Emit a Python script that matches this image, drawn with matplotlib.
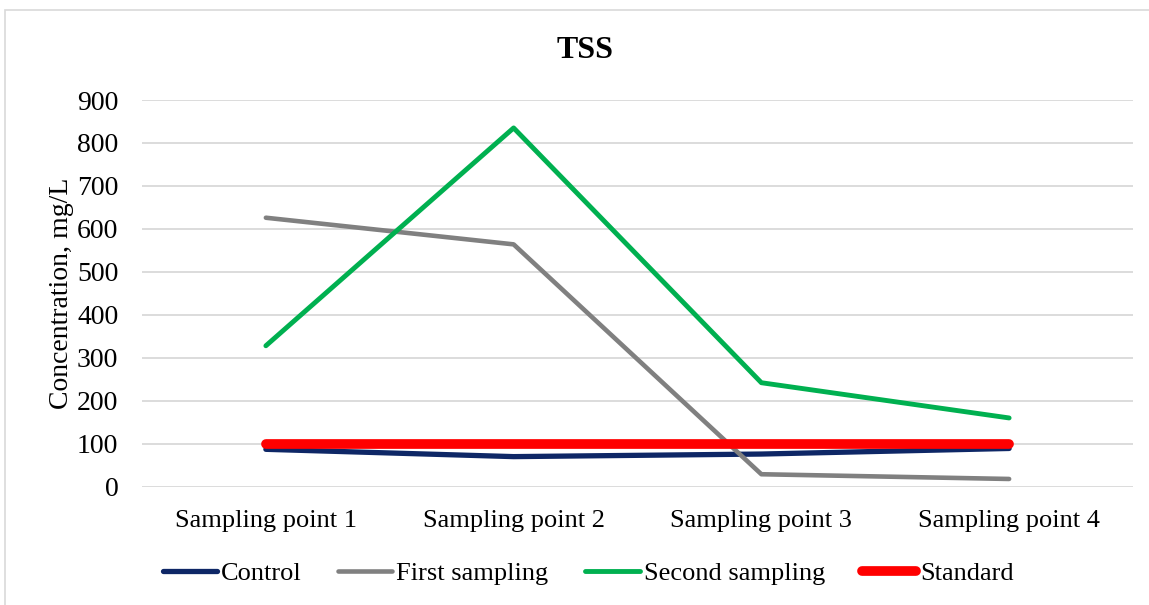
import matplotlib
matplotlib.use("Agg")
import matplotlib.pyplot as plt
from matplotlib.patches import Rectangle

categories = ["Sampling point 1", "Sampling point 2", "Sampling point 3", "Sampling point 4"]
control = [87, 70, 76, 89]
first_sampling = [626, 564, 29, 18]
second_sampling = [328, 835, 242, 160]
standard = [100, 100, 100, 100]
yticks = [0, 100, 200, 300, 400, 500, 600, 700, 800, 900]

plt.rcParams['font.family'] = ['Liberation Serif', 'DejaVu Serif']

W, H = 1149, 605
fig = plt.figure(figsize=(W / 100, H / 100), dpi=100)
ax = fig.add_axes([142 / W, 1 - 486.7 / H, (1133 - 142) / W, (486.7 - 100) / H])

fig.patches.append(Rectangle((5 / W, -0.02), 1.1, 1 - 10 / H + 0.02, transform=fig.transFigure,
                             fill=False, edgecolor='#D9D9D9', linewidth=1.2, zorder=0))

x = list(range(len(categories)))
ax.plot(x, control, color='#0E2766', lw=3.8, solid_capstyle='round', solid_joinstyle='round', label='Control', zorder=3)
ax.plot(x, first_sampling, color='#808080', lw=3.3, solid_capstyle='round', solid_joinstyle='round', label='First sampling', zorder=3)
ax.plot(x, second_sampling, color='#00B050', lw=3.5, solid_capstyle='round', solid_joinstyle='round', label='Second sampling', zorder=4)
ax.plot(x, standard, color='#FF0000', lw=7.0, solid_capstyle='round', solid_joinstyle='round', label='Standard', zorder=5)

ax.set_xlim(-0.5, len(categories) - 0.5)
ax.set_ylim(0, 900)
ax.set_yticks(yticks)
ax.set_yticklabels([str(v) for v in yticks], fontsize=20)
ax.set_xticks(x)
ax.set_xticklabels(categories, fontsize=19)
ax.tick_params(axis='both', length=0)
ax.tick_params(axis='y', pad=17)
ax.tick_params(axis='x', pad=17)
ax.grid(axis='y', color='#D9D9D9', lw=1.3, zorder=0)
ax.set_axisbelow(True)
for s in ax.spines.values():
    s.set_visible(False)

ax.set_ylabel("Concentration, mg/L", fontsize=20)
ax.yaxis.set_label_coords(-68 / (1133 - 142), 0.5)

fig.text(585 / W, 1 - 50 / H, "TSS", ha='center', va='center', fontsize=23, fontweight='bold')

handles, labels = ax.get_legend_handles_labels()
fig.legend(handles, labels, loc='center', bbox_to_anchor=(588 / W, 1 - 573 / H), ncol=4,
           frameon=False, fontsize=19, handlelength=2.05, handletextpad=0.15, columnspacing=1.4)

fig.savefig("out.png", dpi=100)
